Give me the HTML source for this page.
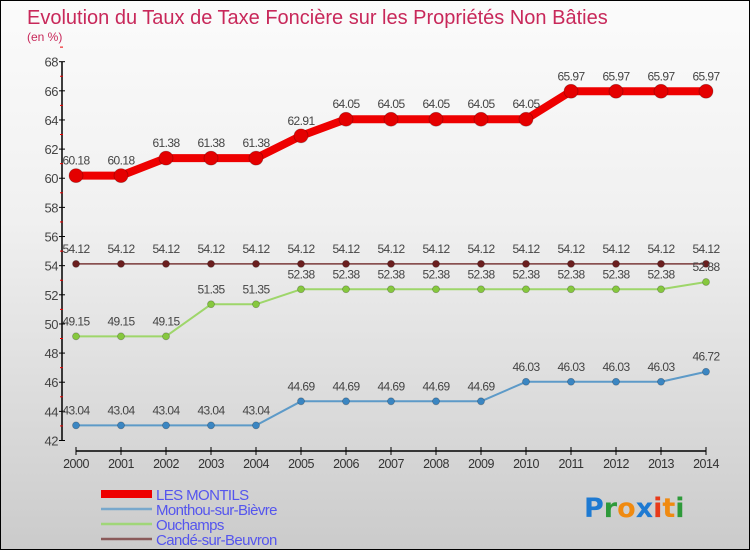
<!DOCTYPE html>
<html><head><meta charset="utf-8"><style>
body{margin:0;}
#wrap{width:748px;height:548px;border:1px solid #000;background:linear-gradient(#fbfbfb,#f0f0f0 40%,#cbcbcb);position:relative;overflow:hidden;font-family:"Liberation Sans",sans-serif;}
</style></head><body>
<div id="wrap">
<svg id="chart" width="748" height="548" style="position:absolute;left:0;top:0">
<text x="26" y="23" font-size="20" fill="#c8285a">Evolution du Taux de Taxe Foncière sur les Propriétés Non Bâties</text>
<text x="26" y="40" font-size="12" fill="#c8285a">(en %)</text>
<g id="axes"></g>
<g id="series"></g>
<g id="legend"></g>
<text x="583" y="516" font-size="27" font-weight="bold" font-family="'DejaVu Sans',sans-serif"><tspan fill="#1e7ad2">P</tspan><tspan fill="#2e9a3a">r</tspan><tspan fill="#f08a10">o</tspan><tspan fill="#1e7ad2">x</tspan><tspan fill="#e83a1a">i</tspan><tspan fill="#f08a10">t</tspan><tspan fill="#2e9a3a">i</tspan></text>
</svg>
</div>
<script>
const years=[2000,2001,2002,2003,2004,2005,2006,2007,2008,2009,2010,2011,2012,2013,2014];
const yTicks=[42,44,46,48,50,52,54,56,58,60,62,64,66,68];
const montils=[60.18,60.18,61.38,61.38,61.38,62.91,64.05,64.05,64.05,64.05,64.05,65.97,65.97,65.97,65.97];
const monthou=[43.04,43.04,43.04,43.04,43.04,44.69,44.69,44.69,44.69,44.69,46.03,46.03,46.03,46.03,46.72];
const ouchamps=[49.15,49.15,49.15,51.35,51.35,52.38,52.38,52.38,52.38,52.38,52.38,52.38,52.38,52.38,52.88];
const cande=[54.12,54.12,54.12,54.12,54.12,54.12,54.12,54.12,54.12,54.12,54.12,54.12,54.12,54.12,54.12];
const names=["LES MONTILS","Monthou-sur-Bièvre","Ouchamps","Candé-sur-Beuvron"];
const NS="http://www.w3.org/2000/svg";
const xs=i=>75+i*45;
const ys=v=>439.5-(v-42)*14.57;
function mk(tag,attrs,parent){const e=document.createElementNS(NS,tag);for(const k in attrs)e.setAttribute(k,attrs[k]);parent.appendChild(e);return e;}
const axes=document.getElementById('axes');
let a=mk('line',{x1:61,y1:ys(68),x2:61,y2:ys(42),stroke:'#000','stroke-width':1.5},axes);


yTicks.forEach(t=>{
 let l=mk('line',{x1:58,x2:64,y1:ys(t),y2:ys(t),stroke:'#000'},axes);
 
 
 let m=mk('line',{x1:59,x2:62,y1:ys(t+1),y2:ys(t+1),stroke:'#e00'},axes);
 
 
 let tx=mk('text',{x:57,y:ys(t)+5,'font-size':13,fill:'#444','text-anchor':'end','letter-spacing':'-0.5'},axes);
 tx.textContent=t;
 
 
});
let xa=mk('line',{x1:xs(0),x2:xs(14),y1:450,y2:450,stroke:'#000','stroke-width':1.5},axes);


years.forEach((y,i)=>{
 let l=mk('line',{x1:xs(i),x2:xs(i),y1:446,y2:454,stroke:'#000'},axes);
 
 
 let tx=mk('text',{x:xs(i),y:467,'font-size':12.5,fill:'#333','text-anchor':'middle','letter-spacing':'-0.5'},axes);
 tx.textContent=y;
 
 
});
const sg=document.getElementById('series');
function series(data,color,w,r,dot,name){
 const g=mk('g',{},sg);
 
 
 let p=mk('polyline',{points:data.map((v,i)=>xs(i)+','+ys(v)).join(' '),fill:'none',stroke:color,'stroke-width':w,'stroke-linejoin':'round'},g);
 
 
 data.forEach((v,i)=>{
  let c=mk('circle',{cx:xs(i),cy:ys(v),r:r,fill:dot,stroke:'rgba(0,0,0,0.25)','stroke-width':0.8},g);
  
  
  let t=mk('text',{x:xs(i),y:ys(v)-11,'font-size':12,fill:'#444','text-anchor':'middle','letter-spacing':'-0.6'},g);
  t.textContent=v.toFixed(2);
  
  
 });
}
series(cande,'#7a3a3a',1.5,3.5,'#6a1e1e','cande-series');
series(ouchamps,'#9ed66a',2,3.5,'#86c83e','ouchamps-series');
series(monthou,'#5d9ac8',2,3.5,'#3b86c2','monthou-series');
series(montils,'#ee0000',8,7,'#e40000','montils-series');
const lg=document.getElementById('legend');
const lc=['#ee0000','#78a8cc','#a0d678','#8a5a5a'];
const lw=[8,2.5,2.5,2.5];
names.forEach((n,i)=>{
 const y=493+i*15;
 let l=mk('line',{x1:100,x2:151,y1:y,y2:y,stroke:lc[i],'stroke-width':lw[i]},lg);
 
 
 let t=mk('text',{x:155,y:y+6,'font-size':15,fill:'#5555ee','letter-spacing':'-0.6'},lg);
 t.textContent=n;
 
 
});
</script>
</body></html>
